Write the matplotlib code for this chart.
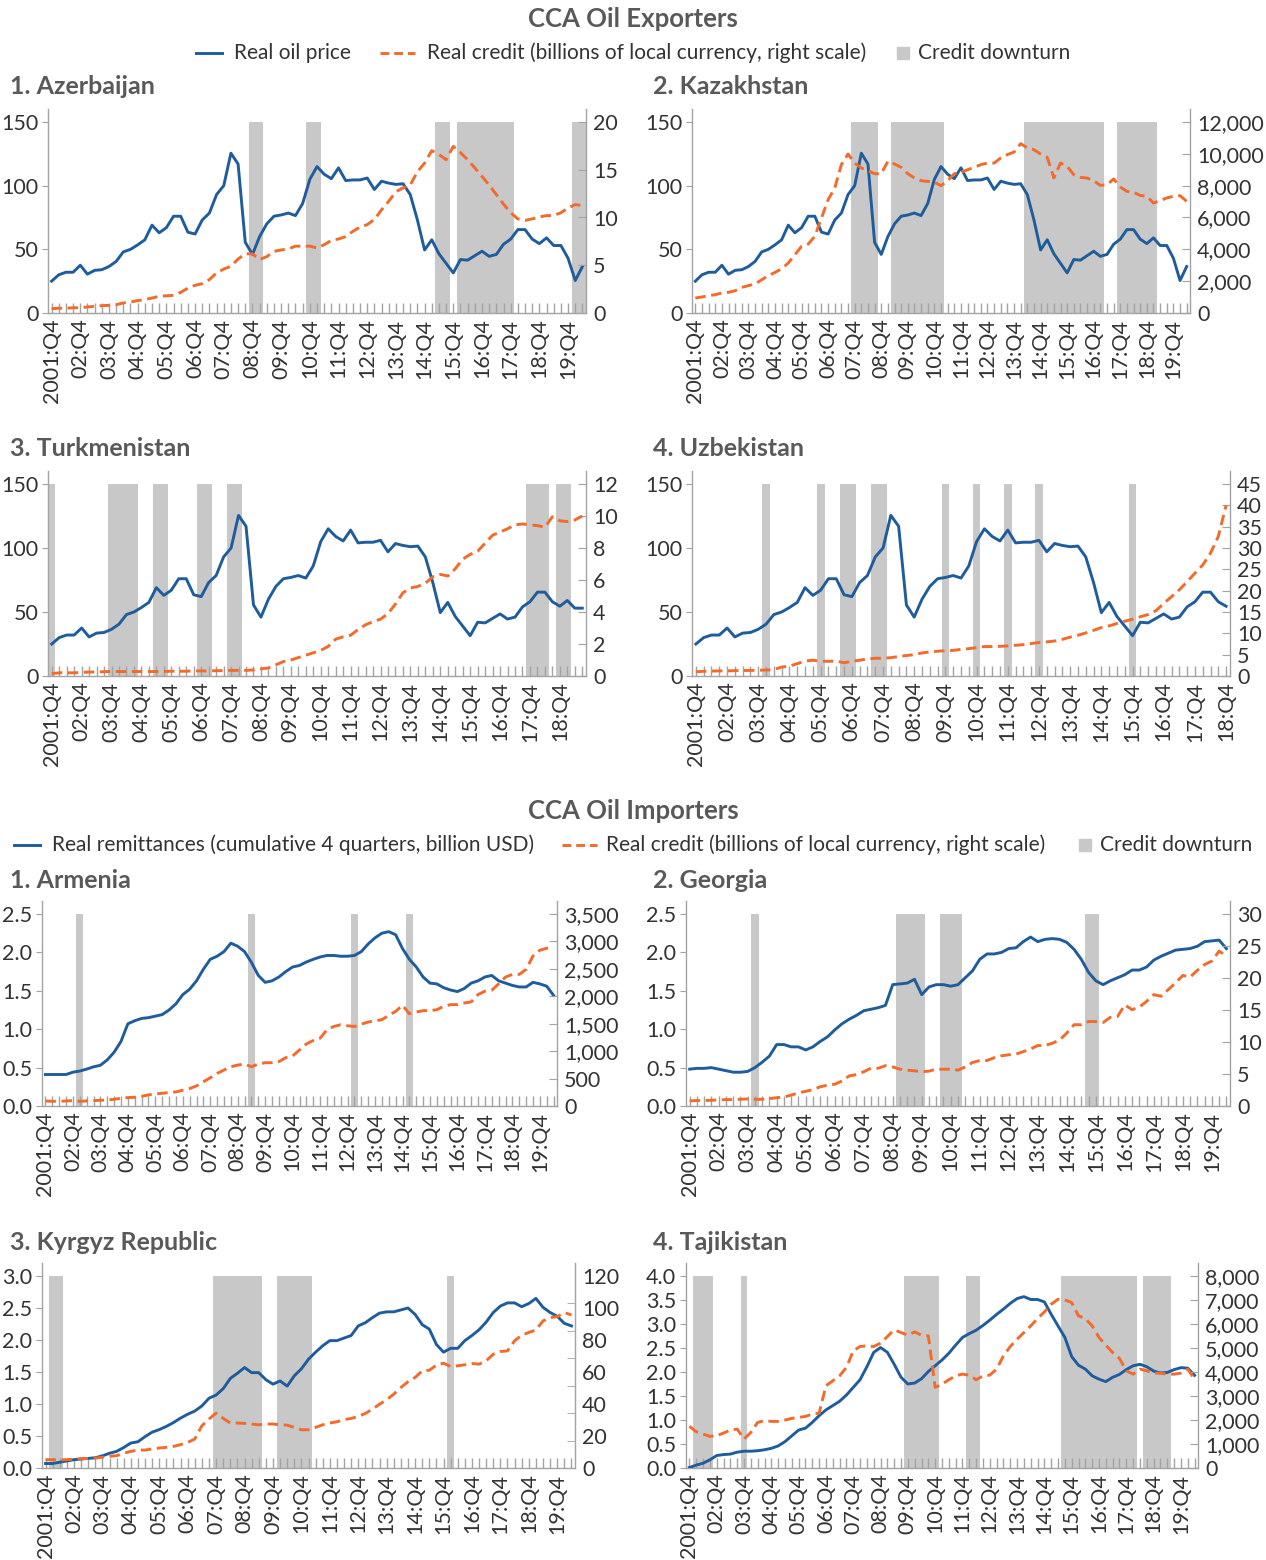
import matplotlib
matplotlib.use("Agg")
import matplotlib.pyplot as plt
from matplotlib.lines import Line2D
from matplotlib.patches import Rectangle
from matplotlib.ticker import FuncFormatter
import numpy as np

plt.rcParams['font.family'] = ['Lato', 'DejaVu Sans']

W, H = 1266, 1560
BLUE = '#1f5c9c'
ORANGE = '#f26b2b'
SHADE = '#c8c8c8'
AXC = '#a3a3a3'
TXT = '#333333'
TTL = '#595959'
TICKFS = 15.5

# ---------------- data (quarterly, starting 2001:Q4) ----------------
oil_price = [25, 30, 32, 32, 37.5, 30.5, 33.5, 34, 36.5, 40.5,
             48, 50, 53.5, 57.5, 69, 63, 67, 76, 76, 63.5,
             62, 73, 78.5, 93, 100, 125.5, 117, 55.5, 46, 60,
             70, 76, 77, 78.5, 76.5, 86, 105, 115, 109, 105.5,
             114, 104, 104.5, 104.5, 106, 97, 103.5, 102, 101, 101.5,
             93, 73, 49.5, 57.5, 46.5, 39, 31.5, 42, 41.5, 45,
             48.5, 44.5, 46, 54, 58, 65.5, 65.5, 58, 54.5, 59,
             53, 53, 43, 25.5, 36.5]

aze_credit = [0.45, 0.5, 0.5, 0.55, 0.55, 0.63, 0.7, 0.77, 0.8, 0.87,
              1.05, 1.15, 1.3, 1.4, 1.57, 1.75, 1.8, 1.85, 2.16, 2.6,
              2.9, 3.07, 3.5, 4.2, 4.6, 4.9, 5.65, 6.2, 6.2, 5.6,
              5.9, 6.45, 6.6, 6.7, 7.0, 7.0, 7.0, 6.8, 7.15, 7.6,
              7.75, 8.0, 8.55, 9.0, 9.25, 9.8, 10.8, 11.7, 12.7, 13.1,
              13.4, 14.8, 15.7, 17.0, 16.6, 16.05, 17.45, 16.8, 16.05, 15.2,
              14.3, 13.4, 12.4, 11.4, 10.5, 9.85, 9.7, 9.85, 10.05, 10.2,
              10.2, 10.5, 11.0, 11.35, 11.25]

kaz_credit = [940, 1005, 1090, 1150, 1260, 1300, 1400, 1610, 1720, 1820,
              2090, 2350, 2550, 2780, 3140, 3660, 4190, 4330, 4820, 5970,
              7120, 7850, 9320, 9990, 9420, 9110, 8940, 8750, 8750, 9530,
              9360, 9150, 8750, 8480, 8310, 8270, 8210, 8000, 8310, 8750,
              8840, 9000, 9150, 9320, 9420, 9420, 9740, 9950, 10110, 10640,
              10370, 10260, 9990, 9780, 8480, 9420, 9210, 8690, 8520, 8480,
              8310, 8020, 8060, 8420, 7920, 7640, 7580, 7390, 7330, 6910,
              7060, 7230, 7330, 7370, 7020]

tkm_credit = [0.15, 0.2, 0.2, 0.2, 0.22, 0.25, 0.25, 0.27, 0.28, 0.28,
              0.28, 0.28, 0.28, 0.28, 0.28, 0.28, 0.3, 0.3, 0.3, 0.32,
              0.32, 0.32, 0.33, 0.34, 0.35, 0.35, 0.35, 0.38, 0.45, 0.5,
              0.7, 0.9, 1.0, 1.15, 1.3, 1.45, 1.6, 1.85, 2.3, 2.45,
              2.55, 2.9, 3.2, 3.4, 3.55, 3.9, 4.5, 5.2, 5.5, 5.6,
              5.8, 6.2, 6.35, 6.25, 6.7, 7.3, 7.6, 7.8, 8.3, 8.8,
              9.0, 9.2, 9.45, 9.5, 9.45, 9.4, 9.3, 9.95, 9.7, 9.65,
              9.75, 10.0]

uzb_credit = [1.0, 1.1, 1.15, 1.2, 1.2, 1.25, 1.3, 1.3, 1.35, 1.4,
              1.5, 2.1, 2.3, 2.9, 3.5, 3.7, 3.45, 3.45, 3.5, 3.1,
              3.45, 3.7, 4.0, 4.15, 4.15, 4.3, 4.55, 4.8, 5.0, 5.4,
              5.65, 5.8, 5.95, 6.0, 6.25, 6.4, 6.65, 6.9, 6.9, 6.95,
              7.05, 7.2, 7.35, 7.6, 7.85, 8.0, 8.2, 8.6, 9.1, 9.55,
              10.1, 10.7, 11.35, 11.75, 12.3, 12.85, 13.3, 13.9, 14.4, 15.3,
              17.0, 18.6, 20.2, 22.1, 24.1, 26.0, 28.8, 32.7, 40.0]

arm_remit = [0.41, 0.41, 0.41, 0.41, 0.44, 0.455, 0.48, 0.51, 0.53, 0.6,
             0.7, 0.84, 1.07, 1.11, 1.14, 1.15, 1.17, 1.19, 1.25, 1.33,
             1.45, 1.52, 1.63, 1.78, 1.91, 1.95, 2.01, 2.12, 2.08, 2.01,
             1.87, 1.70, 1.61, 1.63, 1.68, 1.75, 1.81, 1.83, 1.875, 1.91,
             1.94, 1.96, 1.96, 1.95, 1.95, 1.96, 2.01, 2.11, 2.19, 2.25,
             2.27, 2.23, 2.05, 1.91, 1.81, 1.68, 1.60, 1.59, 1.54, 1.51,
             1.49, 1.53, 1.60, 1.63, 1.68, 1.70, 1.63, 1.60, 1.57, 1.55,
             1.55, 1.61, 1.59, 1.56, 1.44]

arm_credit = [92, 86, 86, 92, 98, 86, 92, 98, 104, 110,
              122, 141, 153, 159, 177, 202, 220, 232, 245, 257,
              288, 318, 367, 441, 514, 594, 655, 716, 746, 765,
              716, 765, 789, 789, 808, 881, 912, 1022, 1132, 1193,
              1236, 1389, 1450, 1481, 1462, 1450, 1493, 1530, 1554, 1573,
              1652, 1725, 1836, 1683, 1713, 1738, 1738, 1756, 1817, 1848,
              1848, 1878, 1897, 2031, 2093, 2111, 2227, 2350, 2399, 2399,
              2490, 2735, 2839, 2876, 2888]

geo_remit = [0.48, 0.49, 0.49, 0.5, 0.48, 0.46, 0.44, 0.44, 0.45, 0.5,
             0.57, 0.65, 0.80, 0.80, 0.77, 0.77, 0.73, 0.77, 0.84, 0.90,
             0.99, 1.07, 1.13, 1.18, 1.24, 1.26, 1.28, 1.31, 1.58, 1.59,
             1.60, 1.65, 1.45, 1.55, 1.58, 1.58, 1.56, 1.58, 1.67, 1.76,
             1.91, 1.98, 1.98, 2.0, 2.05, 2.06, 2.14, 2.20, 2.14, 2.17,
             2.18, 2.17, 2.13, 2.04, 1.91, 1.74, 1.63, 1.58, 1.63, 1.67,
             1.71, 1.77, 1.77, 1.81, 1.90, 1.95, 1.99, 2.03, 2.04, 2.05,
             2.08, 2.14, 2.15, 2.16, 2.05]

geo_credit = [0.8, 0.85, 0.85, 0.9, 0.95, 1.0, 1.0, 1.05, 1.1, 1.05,
              1.05, 1.15, 1.3, 1.4, 1.7, 2.05, 2.3, 2.55, 3.0, 3.25,
              3.4, 3.9, 4.7, 4.9, 5.35, 5.9, 5.9, 6.3, 6.1, 5.75,
              5.6, 5.5, 5.35, 5.45, 5.75, 5.75, 5.75, 5.6, 6.1, 6.8,
              7.1, 7.1, 7.55, 7.85, 8.0, 8.1, 8.5, 8.9, 9.45, 9.45,
              9.8, 10.3, 11.4, 12.7, 12.7, 13.2, 13.2, 13.05, 13.85, 14.0,
              15.8, 15.05, 15.45, 16.35, 17.4, 17.15, 18.2, 19.25, 20.4, 20.15,
              21.2, 22.1, 22.65, 24.2, 23.45]

kgz_remit = [0.07, 0.07, 0.09, 0.11, 0.13, 0.14, 0.15, 0.16, 0.19, 0.23,
             0.26, 0.32, 0.39, 0.41, 0.49, 0.56, 0.60, 0.65, 0.71, 0.78,
             0.84, 0.89, 0.97, 1.09, 1.14, 1.24, 1.40, 1.48, 1.57, 1.49,
             1.49, 1.38, 1.31, 1.36, 1.28, 1.44, 1.55, 1.70, 1.81, 1.91,
             1.99, 1.99, 2.03, 2.07, 2.22, 2.27, 2.35, 2.42, 2.44, 2.44,
             2.47, 2.50, 2.40, 2.24, 2.17, 1.93, 1.81, 1.87, 1.87, 1.99,
             2.07, 2.16, 2.28, 2.43, 2.53, 2.58, 2.58, 2.52, 2.57, 2.65,
             2.51, 2.43, 2.37, 2.26, 2.22]

kgz_credit = [5.2, 5.2, 5.0, 5.2, 5.6, 5.8, 6.0, 6.2, 6.7, 7.3,
              7.7, 9.2, 10.4, 11.2, 11.2, 11.9, 12.5, 12.9, 13.5, 14.6,
              16.0, 18.1, 26.4, 30.6, 34.3, 31.0, 28.1, 28.1, 27.9, 27.5,
              27.0, 27.5, 27.5, 27.0, 26.8, 25.4, 23.9, 23.9, 25.4, 27.0,
              28.1, 28.9, 30.2, 31.0, 32.2, 34.1, 36.8, 39.9, 42.6, 46.2,
              50.3, 53.9, 56.6, 60.7, 61.1, 64.3, 65.5, 63.4, 63.9, 64.5,
              65.3, 64.9, 67.0, 71.1, 72.8, 73.2, 79.5, 83.0, 84.7, 86.3,
              91.9, 94.0, 94.6, 97.1, 95.7]

tjk_remit = [0.01, 0.06, 0.10, 0.17, 0.26, 0.28, 0.29, 0.33, 0.35, 0.35,
             0.36, 0.38, 0.41, 0.46, 0.55, 0.67, 0.79, 0.83, 0.95, 1.09,
             1.21, 1.30, 1.39, 1.52, 1.68, 1.84, 2.11, 2.41, 2.51, 2.41,
             2.16, 1.89, 1.75, 1.77, 1.86, 2.01, 2.13, 2.25, 2.39, 2.56,
             2.72, 2.80, 2.87, 2.97, 3.08, 3.20, 3.31, 3.43, 3.53, 3.57,
             3.51, 3.51, 3.46, 3.20, 2.96, 2.72, 2.32, 2.14, 2.06, 1.92,
             1.85, 1.80, 1.89, 1.95, 2.05, 2.13, 2.16, 2.11, 2.02, 1.98,
             1.99, 2.05, 2.09, 2.08, 1.93]

tjk_credit = [1734, 1512, 1415, 1318, 1345, 1456, 1581, 1623, 1207, 1484,
              1900, 1970, 1942, 1942, 1997, 2067, 2108, 2150, 2247, 2288,
              3426, 3634, 3842, 4189, 4882, 5062, 5090, 5062, 5201, 5478,
              5756, 5645, 5534, 5673, 5534, 5506, 3356, 3495, 3675, 3842,
              3911, 3869, 3675, 3842, 3869, 4119, 4674, 5062, 5368, 5645,
              5922, 6227, 6505, 6824, 7032, 7004, 6893, 6338, 6227, 5922,
              5437, 5118, 4813, 4563, 4050, 3911, 4119, 4050, 3953, 3953,
              3911, 3911, 3953, 4119, 3703]

# credit downturn periods (first quarter, last quarter)
aze_down = [("2008Q4", "2009Q1"), ("2010Q4", "2011Q1"), ("2015Q2", "2015Q3"),
            ("2016Q1", "2017Q4"), ("2020Q1", "2020Q2")]
kaz_down = [("2007Q4", "2008Q3"), ("2009Q2", "2011Q1"), ("2014Q2", "2017Q1"),
            ("2017Q4", "2019Q1")]
tkm_down = [("2001Q4", "2001Q4"), ("2003Q4", "2004Q3"), ("2005Q2", "2005Q3"),
            ("2006Q4", "2007Q1"), ("2007Q4", "2008Q1"), ("2017Q4", "2018Q2"),
            ("2018Q4", "2019Q1")]
uzb_down = [("2004Q1", "2004Q1"), ("2005Q4", "2005Q4"), ("2006Q3", "2006Q4"),
            ("2007Q3", "2007Q4"), ("2009Q4", "2009Q4"), ("2010Q4", "2010Q4"),
            ("2011Q4", "2011Q4"), ("2012Q4", "2012Q4"), ("2015Q4", "2015Q4")]
arm_down = [("2003Q1", "2003Q1"), ("2009Q2", "2009Q2"), ("2013Q1", "2013Q1"),
            ("2015Q1", "2015Q1")]
geo_down = [("2004Q1", "2004Q1"), ("2009Q1", "2009Q4"), ("2010Q3", "2011Q1"),
            ("2015Q3", "2015Q4")]
kgz_down = [("2002Q1", "2002Q2"), ("2007Q4", "2009Q2"), ("2010Q1", "2011Q1"),
            ("2016Q1", "2016Q1")]
tjk_down = [("2002Q1", "2002Q3"), ("2003Q4", "2003Q4"), ("2009Q4", "2010Q4"),
            ("2012Q1", "2012Q2"), ("2015Q3", "2018Q1"), ("2018Q3", "2019Q2")]

exporters_legend = ["Real oil price",
                    "Real credit (billions of local currency, right scale)",
                    "Credit downturn"]
importers_legend = ["Real remittances (cumulative 4 quarters, billion USD)",
                    "Real credit (billions of local currency, right scale)",
                    "Credit downturn"]


def qidx(s):
    y, q = int(s[:4]), int(s[5])
    return (y - 2001) * 4 + (q - 4)


def qlabel(i):
    y = 2001 + (3 + i) // 4
    if i == 0:
        return "2001:Q4"
    return f"{y % 100:02d}:Q4"


fig = plt.figure(figsize=(W / 100, H / 100), dpi=100)


def fx(px):
    return px / W


def fy(py):
    return 1 - py / H


def thousands(v, pos):
    return f"{v:,.0f}"


def panel(lpx, rpx, y0, ytop, left_series, right_series, down,
          lticks, rticks, lfmt, rfmt, rminor=None):
    n_axis = len(right_series)
    ltop = lticks[-1]
    rtop = rticks[-1]
    frac = 16 / 15
    hpx = (y0 - ytop) * frac
    ax = fig.add_axes([lpx / W, 1 - y0 / H, (rpx - lpx) / W, hpx / H])
    ax.set_xlim(-0.5, n_axis - 0.5)
    ax.set_ylim(0, ltop * frac)
    idx = []
    for a, b in down:
        idx.extend(range(qidx(a), qidx(b) + 1))
    ax.bar(idx, [ltop] * len(idx), width=1.0, color=SHADE, linewidth=0, zorder=1)
    ax.plot(range(len(left_series)), left_series, color=BLUE, lw=2.1, zorder=3,
            solid_joinstyle='round')
    ax2 = ax.twinx()
    ax2.set_ylim(0, rtop * frac)
    ax2.plot(range(len(right_series)), right_series, color=ORANGE, lw=2.1,
             dashes=(3.6, 1.9), zorder=3)
    for s in ['top', 'right']:
        ax.spines[s].set_visible(False)
    for s in ['top', 'left', 'bottom']:
        ax2.spines[s].set_visible(False)
    for sp in [ax.spines['left'], ax.spines['bottom'], ax2.spines['right']]:
        sp.set_color(AXC)
        sp.set_linewidth(1.0)
    ax.set_yticks(lticks)
    ax.yaxis.set_major_formatter(FuncFormatter(lfmt))
    ax.tick_params(axis='y', direction='out', length=4, color=AXC,
                   labelsize=TICKFS, labelcolor=TXT, pad=3)
    ax.set_xticks(range(n_axis))
    ax.set_xticklabels([qlabel(i) if i % 4 == 0 else '' for i in range(n_axis)],
                       rotation=90, va='top', ha='center')
    ax.tick_params(axis='x', direction='in', length=7, color=AXC, width=1,
                   labelsize=TICKFS, labelcolor=TXT, pad=4)
    ax2.set_yticks(rticks)
    ax2.yaxis.set_major_formatter(FuncFormatter(rfmt))
    if rminor is not None:
        ax2.tick_params(axis='y', which='major', length=0)
        ax2.set_yticks(rminor, minor=True)
        ax2.tick_params(axis='y', which='minor', direction='in', length=6,
                        color=AXC)
        ax2.tick_params(axis='y', which='major', labelsize=TICKFS,
                        labelcolor=TXT, pad=5)
    else:
        ax2.tick_params(axis='y', direction='in', length=6, color=AXC,
                        labelsize=TICKFS, labelcolor=TXT, pad=5)
    return ax, ax2


def legend_row(y, labels, xs):
    # xs: (blue line x0, x1, text x), (orange x0, x1, text x), (square x0, text x)
    (b0, b1, bt), (o0, o1, ot), (s0, st) = xs
    fig.add_artist(Line2D([fx(b0), fx(b1)], [fy(y), fy(y)], color=BLUE, lw=2.1,
                          transform=fig.transFigure))
    fig.text(fx(bt), fy(y), labels[0], ha='left', va='center', fontsize=15,
             color=TXT)
    fig.add_artist(Line2D([fx(o0), fx(o1)], [fy(y), fy(y)], color=ORANGE,
                          lw=2.1, dashes=(3.0, 1.7), transform=fig.transFigure))
    fig.text(fx(ot), fy(y), labels[1], ha='left', va='center', fontsize=15,
             color=TXT)
    fig.add_artist(Rectangle((fx(s0), fy(y + 6)), 12 / W, 12 / H,
                             color=SHADE, transform=fig.transFigure))
    fig.text(fx(st), fy(y), labels[2], ha='left', va='center', fontsize=15,
             color=TXT)


intf = lambda v, p: f"{v:.0f}"
dec1 = lambda v, p: f"{v:.1f}"

# ---------- Oil exporters ----------
fig.text(633 / W, 1 - 19 / H, "CCA Oil Exporters", ha='center', va='center',
         fontsize=18.5, fontweight='bold', color=TTL)
legend_row(53, exporters_legend, ((196, 222, 234), (380, 415, 427), (897, 918)))

titles = [("1. Azerbaijan", 10, 87), ("2. Kazakhstan", 653, 87),
          ("3. Turkmenistan", 10, 449), ("4. Uzbekistan", 653, 449),
          ("1. Armenia", 10, 880), ("2. Georgia", 653, 880),
          ("3. Kyrgyz Republic", 10, 1242), ("4. Tajikistan", 653, 1243)]
for t, x, y in titles:
    fig.text(x / W, 1 - y / H, t, ha='left', va='center', fontsize=18,
             fontweight='bold', color=TTL)

panel(48, 586, 313, 122, oil_price, aze_credit, aze_down,
      [0, 50, 100, 150], [0, 5, 10, 15, 20], intf, intf)
panel(692, 1190, 313, 122, oil_price, kaz_credit, kaz_down,
      [0, 50, 100, 150], list(range(0, 12001, 2000)), intf, thousands)
panel(48, 586, 676, 484, oil_price[:len(tkm_credit)], tkm_credit, tkm_down,
      [0, 50, 100, 150], list(range(0, 13, 2)), intf, intf)
panel(692, 1230, 676, 484, oil_price[:len(uzb_credit)], uzb_credit, uzb_down,
      [0, 50, 100, 150], list(range(0, 46, 5)), intf, intf)

# ---------- Oil importers ----------
fig.text(633 / W, 1 - 811 / H, "CCA Oil Importers", ha='center', va='center',
         fontsize=18.5, fontweight='bold', color=TTL)
legend_row(845, importers_legend, ((14, 40, 52), (562, 597, 606), (1079, 1100)))

panel(42, 557, 1106, 914, arm_remit, arm_credit, arm_down,
      [0, 0.5, 1.0, 1.5, 2.0, 2.5], list(range(0, 3501, 500)), dec1, thousands)
panel(686, 1230, 1106, 914, geo_remit, geo_credit, geo_down,
      [0, 0.5, 1.0, 1.5, 2.0, 2.5], list(range(0, 31, 5)), dec1, intf)
panel(42, 575, 1468, 1276, kgz_remit, kgz_credit, kgz_down,
      [0, 0.5, 1.0, 1.5, 2.0, 2.5, 3.0], list(range(0, 121, 20)), dec1, intf,
      rminor=list(np.linspace(0, 120, 8)))
panel(686, 1198, 1468, 1276, tjk_remit, tjk_credit, tjk_down,
      [0, 0.5, 1.0, 1.5, 2.0, 2.5, 3.0, 3.5, 4.0], list(range(0, 8001, 1000)),
      dec1, thousands)

fig.savefig("out.png", dpi=100)
